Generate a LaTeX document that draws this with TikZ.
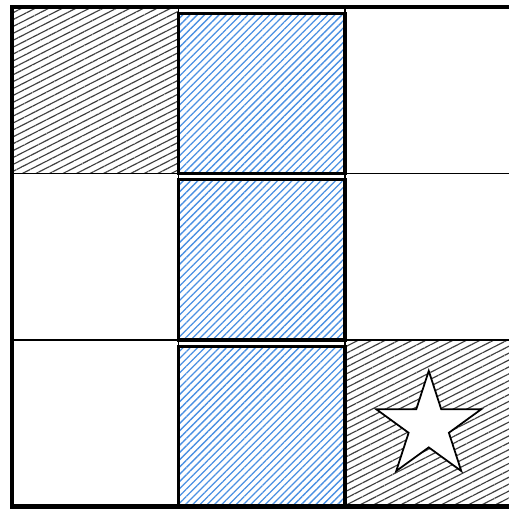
\documentclass[tikz,border=0pt]{standalone}
\usepackage{tikz}
\usetikzlibrary{patterns.meta,shapes.geometric}
\definecolor{hatchblue}{RGB}{74,144,226}

\tikzset{
    wall/.style={pattern={Lines[angle=27,distance=2.1pt,line width=0.4pt]},pattern color=black!75},
    water/.style={pattern={Lines[angle=45,distance=1.75pt,line width=0.45pt]},pattern color=hatchblue},
}

\begin{document}
\begin{tikzpicture}[x=2cm,y=2cm]
    \useasboundingbox (-0.072,-0.015) rectangle (2.984,3.042);
    % hatched corner cells
    \fill[wall] (0,2) rectangle (1,3);
    \fill[wall] (2,0) rectangle (3,1);
    % grid
    \draw[thin] (0,1)--(3,1);
    \draw[thin] (0,2)--(3,2);
    \draw[thin] (1,0)--(1,3);
    \draw[thin] (2,0)--(2,3);
    % middle column
    \foreach \y in {0,1,2}
        \draw[line width=1.1pt,water] (1,\y) rectangle (2,\y+0.962);
    \draw[line width=1.5pt] (0,0) rectangle (3,3);
    \node[star,star points=5,star point ratio=2.618,draw,line width=0.6pt,fill=white,
          inner sep=0pt,minimum size=1.33cm] (goal) at (2.503,0.482) {};
\end{tikzpicture}
\end{document}
